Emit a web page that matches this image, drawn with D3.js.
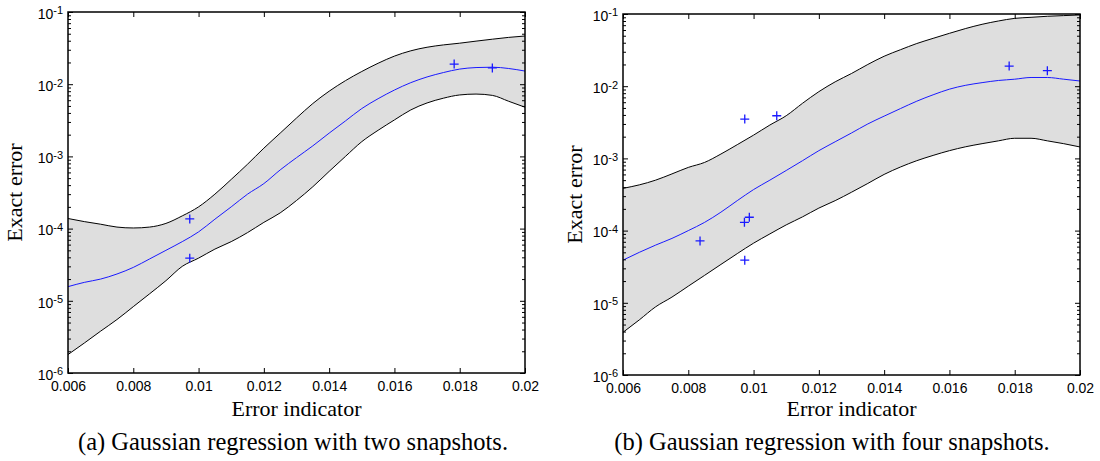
<!DOCTYPE html>
<html>
<head>
	<title>Gaussian regression</title>
	<script src="https://d3js.org/d3.v7.min.js"></script>
	<style>
		body{margin:0;background:#fff;}
		.tick text{font-family:'Liberation Sans',Arial,sans-serif;font-size:14px;fill:#000;}
		text.serif{font-family:'Liberation Serif','DejaVu Serif',serif;font-size:22px;fill:#000;}
		text.caption{font-size:24.5px;}
	</style>
</head>
<body>
	<svg id="chart" width="1100" height="461"></svg>
	<script>
		// axis ticks
		const xTicks = [0.006,0.008,0.01,0.012,0.014,0.016,0.018,0.02];
		const xTickLabels = ['0.006','0.008','0.01','0.012','0.014','0.016','0.018','0.02'];
		const yDecades = [1e-6,1e-5,1e-4,1e-3,1e-2,1e-1];
		const yExponents = ['-6','-5','-4','-3','-2','-1'];

		// error indicator grid, shared by both panels
		const errIndicator = [0.006,0.0065,0.007,0.0075,0.008,0.0085,0.009,0.0095,0.01,0.0105,0.011,0.0115,0.012,0.0125,0.013,0.0135,0.014,0.0145,0.015,0.0155,0.016,0.0165,0.017,0.0175,0.018,0.0185,0.019,0.0195,0.02];

		// (a) two snapshots
		const upperA = [1.38e-4,1.25e-4,1.15e-4,1.05e-4,1.02e-4,1.05e-4,1.18e-4,1.5e-4,2.0e-4,3.0e-4,4.8e-4,7.8e-4,1.3e-3,2.1e-3,3.4e-3,5.4e-3,8.0e-3,1.12e-2,1.5e-2,1.95e-2,2.45e-2,2.9e-2,3.25e-2,3.5e-2,3.7e-2,3.95e-2,4.2e-2,4.45e-2,4.65e-2];
		const meanA = [1.57e-5,1.8e-5,2.0e-5,2.35e-5,2.9e-5,3.8e-5,5.0e-5,6.6e-5,9.0e-5,1.35e-4,2.0e-4,3.0e-4,4.2e-4,6.5e-4,9.6e-4,1.4e-3,2.1e-3,3.1e-3,4.6e-3,6.3e-3,8.3e-3,1.05e-2,1.26e-2,1.45e-2,1.62e-2,1.7e-2,1.72e-2,1.65e-2,1.52e-2];
		const lowerA = [1.8e-6,2.6e-6,3.8e-6,5.5e-6,8.3e-6,1.25e-5,1.9e-5,3.0e-5,3.9e-5,5.2e-5,6.6e-5,8.8e-5,1.22e-4,1.65e-4,2.45e-4,3.8e-4,6.2e-4,1.0e-3,1.6e-3,2.3e-3,3.2e-3,4.4e-3,5.5e-3,6.4e-3,7.1e-3,7.3e-3,7.0e-3,5.8e-3,4.8e-3];
		const snapXA = [0.00973,0.00973,0.01783,0.019];
		const snapYA = [1.36e-4,3.9e-5,1.9e-2,1.68e-2];

		// (b) four snapshots
		const upperB = [3.85e-4,4.3e-4,5.0e-4,6.1e-4,7.5e-4,8.8e-4,1.15e-3,1.55e-3,2.1e-3,2.9e-3,3.9e-3,5.8e-3,8.4e-3,1.15e-2,1.5e-2,2.0e-2,2.6e-2,3.2e-2,3.9e-2,4.6e-2,5.4e-2,6.3e-2,7.2e-2,8.0e-2,8.7e-2,9.0e-2,9.3e-2,9.5e-2,9.7e-2];
		const meanB = [3.9e-5,5.0e-5,6.3e-5,7.8e-5,1.0e-4,1.3e-4,1.8e-4,2.6e-4,3.7e-4,5.0e-4,6.8e-4,9.3e-4,1.28e-3,1.7e-3,2.25e-3,3.0e-3,3.85e-3,4.9e-3,6.2e-3,7.6e-3,9.1e-3,1.03e-2,1.12e-2,1.2e-2,1.25e-2,1.32e-2,1.32e-2,1.25e-2,1.18e-2];
		const lowerB = [3.9e-6,5.8e-6,8.8e-6,1.2e-5,1.7e-5,2.4e-5,3.4e-5,4.8e-5,6.7e-5,9.0e-5,1.2e-4,1.55e-4,2.05e-4,2.6e-4,3.4e-4,4.5e-4,6.0e-4,7.6e-4,9.3e-4,1.1e-3,1.28e-3,1.45e-3,1.6e-3,1.75e-3,1.9e-3,1.9e-3,1.75e-3,1.6e-3,1.44e-3];
		const snapXB = [0.00836,0.00972,0.00987,0.00973,0.00973,0.01071,0.01783,0.019];
		const snapYB = [7.2e-5,1.3e-4,1.53e-4,3.9e-5,3.5e-3,3.9e-3,1.9e-2,1.64e-2];

		const W = 457, H = 361;
		const svg = d3.select('#chart');

		const panels = [
			{id:'a', left:68, top:12, upper:upperA, mean:meanA, lower:lowerA, sx:snapXA, sy:snapYA,
				caption:'(a) Gaussian regression with two snapshots.', capX:293, yLabX:22},
			{id:'b', left:623, top:14, upper:upperB, mean:meanB, lower:lowerB, sx:snapXB, sy:snapYB,
				caption:'(b) Gaussian regression with four snapshots.', capX:832, yLabX:582}
		];

		panels.forEach(p => {
			const x = d3.scaleLinear().domain([0.006,0.02]).range([0,W]);
			const y = d3.scaleLog().domain([1e-6,1e-1]).range([H,0]);
			const g = svg.append('g').attr('transform',`translate(${p.left},${p.top})`);

			g.append('clipPath').attr('id','clip'+p.id)
				.append('rect').attr('width',W).attr('height',H);
			const plot = g.append('g').attr('clip-path',`url(#clip${p.id})`);

			const rows = d3.zip(errIndicator,p.lower,p.mean,p.upper);
			const area = d3.area().curve(d3.curveMonotoneX)
				.x(d => x(d[0])).y0(d => y(d[1])).y1(d => y(d[3]));
			const line = k => d3.line().curve(d3.curveMonotoneX).x(d => x(d[0])).y(d => y(d[k]));

			plot.append('path').datum(rows).attr('d',area).attr('fill','#dedede');
			plot.append('path').datum(rows).attr('d',line(1)).attr('fill','none').attr('stroke','#000').attr('stroke-width',1);
			plot.append('path').datum(rows).attr('d',line(3)).attr('fill','none').attr('stroke','#000').attr('stroke-width',1);
			plot.append('path').datum(rows).attr('d',line(2)).attr('fill','none').attr('stroke','#1a1aff').attr('stroke-width',1);

			g.selectAll('.snap').data(d3.zip(p.sx,p.sy)).join('path')
				.attr('class','snap')
				.attr('transform',d => `translate(${x(d[0])},${y(d[1])})`)
				.attr('d','M-4.5,0H4.5M0,-4.5V4.5')
				.attr('stroke','#1a1aff').attr('stroke-width',1.3);

			// minor log ticks
			const minor = [];
			yDecades.slice(0,-1).forEach(d => { for(let m=2;m<10;m++) minor.push(d*m); });

			g.append('g').attr('transform',`translate(0,${H})`)
				.call(d3.axisBottom(x).tickValues(xTicks).tickSize(-5).tickPadding(8).tickFormat((d,i) => xTickLabels[i]));
			g.append('g').call(d3.axisTop(x).tickValues(xTicks).tickSize(-5).tickFormat(''));
			g.append('g').call(d3.axisRight(y).tickValues(minor).tickSize(-3).tickFormat('')).attr('transform',`translate(${W},0)`);
			g.append('g').call(d3.axisRight(y).tickValues(yDecades).tickSize(-5).tickFormat('')).attr('transform',`translate(${W},0)`);
			g.append('g').call(d3.axisLeft(y).tickValues(minor).tickSize(-3).tickFormat(''));
			const yAx = g.append('g').call(d3.axisLeft(y).tickValues(yDecades).tickSize(-5).tickPadding(5).tickFormat(''));
			yAx.selectAll('.tick text').each(function(d,i){
				const t = d3.select(this).attr('dy','0.45em');
				t.append('tspan').text('10');
				t.append('tspan').attr('dy','-0.4em').attr('font-size','11px').text(yExponents[i]);
			});
			g.selectAll('.domain').remove();

			g.append('rect').attr('width',W).attr('height',H)
				.attr('fill','none').attr('stroke','#000').attr('stroke-width',1.5);

			svg.append('text').attr('class','serif')
				.attr('x',p.left+W/2).attr('y',416).attr('text-anchor','middle')
				.text('Error indicator');
			svg.append('text').attr('class','serif')
				.attr('transform',`translate(${p.yLabX},${p.top+H/2}) rotate(-90)`)
				.attr('text-anchor','middle')
				.text('Exact error');
			svg.append('text').attr('class','serif caption')
				.attr('x',p.capX).attr('y',450).attr('text-anchor','middle')
				.text(p.caption);
		});
	</script>
</body>
</html>
